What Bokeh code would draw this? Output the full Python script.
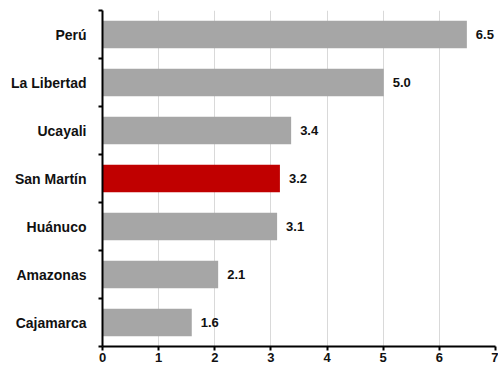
from bokeh.plotting import figure
from bokeh.models import ColumnDataSource, FixedTicker, Range1d
from bokeh.core.properties import value
from bokeh.embed import file_html
from bokeh.resources import INLINE

# Data (top to bottom as shown)
categories = ["Perú", "La Libertad", "Ucayali", "San Martín", "Huánuco", "Amazonas", "Cajamarca"]
values = [6.49, 5.01, 3.36, 3.16, 3.11, 2.06, 1.59]
highlight = "San Martín"
x_ticks = [0, 1, 2, 3, 4, 5, 6, 7]

n = len(categories)
ypos = [n - 1 - i + 0.5 for i in range(n)]
colors = ["#C00000" if c == highlight else "#A6A6A6" for c in categories]
labels = ["%.1f" % v for v in values]

src = ColumnDataSource(dict(y=ypos, v=values, color=colors, label=labels, cat=categories))

FONT = "Liberation Sans"

p = figure(width=498, height=367, output_backend="svg", toolbar_location=None,
           x_range=Range1d(0, 7), y_range=Range1d(0, n),
           min_border_left=102, min_border_right=3, min_border_top=10, min_border_bottom=21)
p.outline_line_color = None
p.background_fill_color = "white"
p.border_fill_color = "white"

p.hbar(y="y", right="v", left=0, height=0.57, fill_color="color", line_color=None, source=src)
p.text(x="v", y="y", text="label", source=src, x_offset=9, text_baseline="middle",
       text_align="left", text_font=value(FONT), text_font_style="bold",
       text_font_size="13px", text_color="#111111")

# X axis
p.xaxis.ticker = FixedTicker(ticks=x_ticks)
p.xaxis.major_tick_in = 0
p.xaxis.major_tick_out = 4
p.xaxis.minor_tick_line_color = None
p.xaxis.axis_line_width = 2
p.xaxis.major_tick_line_width = 2
p.xaxis.major_label_text_font = FONT
p.xaxis.major_label_text_font_style = "bold"
p.xaxis.major_label_text_font_size = "13px"
p.xaxis.major_label_text_color = "#111111"
p.xaxis.major_label_standoff = 2

# Y axis: labels at category centers, ticks at boundaries
p.yaxis.ticker = FixedTicker(ticks=ypos, minor_ticks=list(range(n + 1)))
p.yaxis.major_label_overrides = {y: c for y, c in zip(ypos, categories)}
p.yaxis.major_tick_in = 0
p.yaxis.major_tick_out = 0
p.yaxis.minor_tick_in = 0
p.yaxis.minor_tick_out = 4
p.yaxis.minor_tick_line_width = 2
p.yaxis.axis_line_width = 2
p.yaxis.major_label_text_font = FONT
p.yaxis.major_label_text_font_style = "bold"
p.yaxis.major_label_text_font_size = "14px"
p.yaxis.major_label_text_color = "#111111"
p.yaxis.major_label_standoff = 12

p.xgrid.grid_line_color = "#D9D9D9"
p.xgrid.grid_line_width = 1
p.ygrid.grid_line_color = None

open("out.html", "w").write(file_html(p, INLINE))
